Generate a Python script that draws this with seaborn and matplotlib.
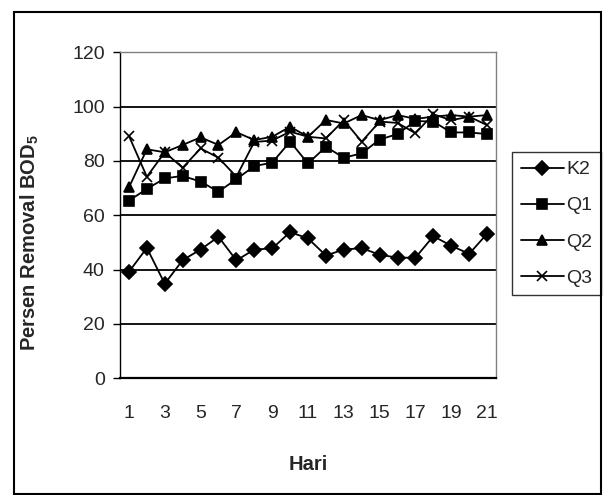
import matplotlib
matplotlib.use("Agg")
import matplotlib.pyplot as plt
import seaborn as sns
import numpy as np
from matplotlib.patches import Rectangle

days = list(range(1, 22))
K2 = [39.2, 48.0, 34.8, 43.5, 47.4, 52.1, 43.4, 47.4, 47.8, 53.8, 51.5,
      45.2, 47.4, 47.9, 45.5, 44.4, 44.4, 52.3, 48.8, 45.8, 53.2]
Q1 = [65.4, 69.7, 73.6, 74.5, 72.4, 68.7, 73.3, 78.1, 79.4, 87.1, 79.1,
      85.2, 81.2, 82.8, 87.9, 89.9, 94.7, 94.5, 90.5, 90.5, 89.9]
Q2 = [70.3, 84.3, 83.2, 85.9, 88.7, 85.9, 90.6, 87.7, 88.9, 92.6, 88.9,
      95.1, 93.8, 96.9, 95.0, 96.9, 95.5, 96.3, 96.9, 96.3, 96.9]
Q3 = [89.2, 74.2, 83.2, 77.5, 84.6, 81.2, 74.2, 87.0, 87.5, 90.8, 88.9,
      88.3, 95.0, 87.1, 94.5, 94.0, 90.2, 97.2, 95.0, 96.3, 93.2]
series_names = ["K2", "Q1", "Q2", "Q3"]
series_vals = [K2, Q1, Q2, Q3]
y_ticks = [0, 20, 40, 60, 80, 100, 120]
x_labels = [1, 3, 5, 7, 9, 11, 13, 15, 17, 19, 21]

sns.set_style("white")
plt.rcParams["font.family"] = ["Liberation Sans", "DejaVu Sans"]
plt.rcParams["mathtext.fontset"] = "custom"
plt.rcParams["mathtext.rm"] = "Liberation Sans"
plt.rcParams["mathtext.bf"] = "Liberation Sans:bold"

W, H = 603, 495
fig = plt.figure(figsize=(W / 100, H / 100), dpi=100)
ax = fig.add_axes([120 / W, 1 - 378.3 / H, 376 / W, 326 / H])

styles = {"K2": ("D", 7.5), "Q1": ("s", 6.5), "Q2": ("^", 7.5), "Q3": ("x", 6.5)}
for name, vals in zip(series_names, series_vals):
    m, ms = styles[name]
    sns.lineplot(x=days, y=vals, ax=ax, color="black", marker=m, markersize=ms,
                 markeredgecolor="black", markerfacecolor="black",
                 markeredgewidth=1.2, linewidth=1.3, label=name, zorder=3)

ax.set_xlim(0.5, 21.5)
ax.set_ylim(0, 120)
ax.set_yticks(y_ticks)
ax.set_xticks(x_labels)
ax.set_xticklabels([str(v) for v in x_labels])
ax.set_xticks(np.arange(0.5, 22.0, 1.0), minor=True)
ax.tick_params(axis="x", which="major", length=0, pad=19, labelsize=14)
ax.tick_params(axis="x", which="minor", length=6, width=1, color="black", direction="out")
ax.tick_params(axis="y", which="major", length=5, width=1, color="black", direction="out",
               pad=6, labelsize=14, left=True)

ax.yaxis.grid(True, color="black", linewidth=1.3)
ax.xaxis.grid(False)
for gl, t in zip(ax.get_ygridlines(), y_ticks):
    if t in (0, 120):
        gl.set_visible(False)
ax.set_axisbelow(True)

for s in ["left", "bottom"]:
    ax.spines[s].set_color("black")
ax.spines["left"].set_linewidth(1.0)
ax.spines["bottom"].set_linewidth(1.6)
for s in ["top", "right"]:
    ax.spines[s].set_visible(True)
    ax.spines[s].set_color("#808080")
    ax.spines[s].set_linewidth(1.0)

ax.set_xlabel("Hari", fontsize=14.5, fontweight="bold", labelpad=24)
ax.set_ylabel(r"Persen Removal BOD$_\mathbf{5}$", fontsize=14.5, fontweight="bold")
ax.yaxis.set_label_coords(-0.21, 0.415)

leg = ax.legend(loc="upper left", bbox_to_anchor=(512 / W, 1 - 152 / H),
                bbox_transform=fig.transFigure, borderaxespad=0, frameon=True,
                fancybox=False, edgecolor="black", fontsize=14, labelspacing=0.95,
                handlelength=2.2, handletextpad=0.15, borderpad=0.45)
leg.get_frame().set_linewidth(1.0)

fig.patches.append(Rectangle((14 / W, 1 / H), (601 - 14) / W, (494 - 12) / H,
                             transform=fig.transFigure, fill=False,
                             edgecolor="black", linewidth=1.5))

fig.savefig("out.png", dpi=100)
